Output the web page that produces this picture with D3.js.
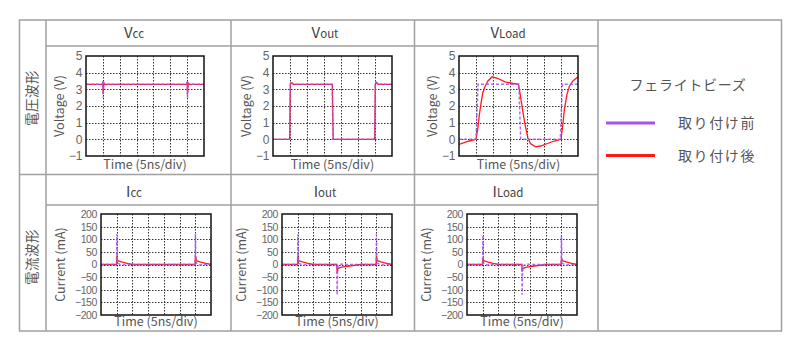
<!DOCTYPE html>
<html>
<head>
<meta charset="utf-8">
<script src="https://cdn.jsdelivr.net/npm/d3@7"></script>
<style>
body { margin: 0; background: #fff; }
text { font-family: "Noto Sans CJK JP", "Noto Sans", sans-serif; fill: #555; }
</style>
</head>
<body>
<svg id="chart" width="800" height="350"></svg>
<script>
// 時間軸は div 単位 (1div = 5ns)
const timeDomain = [0, 7];
const timeGrid = [1, 2, 3, 4, 5, 6];
const voltTicks = [-1, 0, 1, 2, 3, 4, 5];
const currTicks = [-200, -150, -100, -50, 0, 50, 100, 150, 200];

// 電圧波形 [div, V]
const vccBefore = [[0,3.3],[0.98,3.3],[1.0,3.5],[1.02,2.5],[1.06,3.4],[1.15,3.3],[5.98,3.3],[6.0,3.5],[6.02,2.5],[6.06,3.4],[6.15,3.3],[7,3.3]];
const vccAfter = [[0,3.3],[0.98,3.3],[1.0,3.45],[1.02,2.7],[1.05,3.35],[1.12,3.3],[5.98,3.3],[6.0,3.45],[6.02,2.7],[6.05,3.35],[6.12,3.3],[7,3.3]];
const voutBefore = [[0,0],[0.98,0],[1.02,3.3],[1.05,3.45],[1.2,3.3],[3.48,3.3],[3.53,0],[5.98,0],[6.02,3.3],[6.05,3.45],[6.2,3.3],[7,3.3]];
const voutAfter = [[0,0],[0.98,0],[1.02,3.3],[1.06,3.4],[1.2,3.3],[3.49,3.3],[3.54,0],[5.98,0],[6.02,3.3],[6.06,3.4],[6.2,3.3],[7,3.3]];
const vloadBefore = [[0,0],[1.0,0],[1.12,3.3],[3.52,3.3],[3.63,0],[5.96,0],[6.08,3.3],[7,3.3]];
const vloadAfter = [[0,-0.3],[0.3,-0.2],[0.6,-0.1],[1.0,0],[1.1,0.6],[1.2,1.5],[1.3,2.2],[1.4,2.8],[1.5,3.1],[1.7,3.5],[1.95,3.75],[2.3,3.65],[2.7,3.45],[3.2,3.35],[3.5,3.3],[3.6,2.7],[3.75,1.7],[3.9,0.8],[4.05,0.1],[4.2,-0.25],[4.5,-0.45],[4.8,-0.4],[5.2,-0.25],[5.6,-0.1],[6.0,0],[6.1,0.8],[6.2,1.8],[6.35,2.7],[6.5,3.2],[6.7,3.5],[7.0,3.75]];

// 電流波形 [div, mA]
const iccBefore = [[0,0],[0.99,0],[1.01,120],[1.04,10],[1.1,4],[1.3,-2],[1.6,0],[5.99,0],[6.01,120],[6.04,10],[6.1,4],[6.3,-2],[6.6,0],[7,0]];
const iccAfter = [[0,0],[0.99,0],[1.01,35],[1.06,15],[1.3,10],[1.6,5],[2.0,0],[5.99,0],[6.01,35],[6.06,15],[6.3,10],[6.6,5],[7,0]];
const ioutBefore = [[0,0],[0.99,0],[1.01,120],[1.04,10],[1.1,4],[1.3,-2],[1.6,0],[3.49,0],[3.51,-120],[3.54,-10],[3.6,-4],[3.8,2],[4.1,0],[5.99,0],[6.01,120],[6.04,10],[6.1,4],[6.3,-2],[6.6,0],[7,0]];
const ioutAfter = [[0,0],[0.99,0],[1.01,35],[1.06,15],[1.3,10],[1.6,5],[2.0,0],[3.49,0],[3.51,-35],[3.56,-15],[3.8,-10],[4.4,-5],[5.0,0],[5.99,0],[6.01,35],[6.06,15],[6.3,10],[6.6,5],[7,0]];
const iloadBefore = [[0,0],[0.99,0],[1.01,115],[1.04,8],[1.1,3],[1.3,-2],[1.6,0],[3.49,0],[3.51,-120],[3.54,-10],[3.6,-4],[3.8,2],[4.1,0],[5.99,0],[6.01,115],[6.04,8],[6.1,3],[6.3,-2],[6.6,0],[7,0]];
const iloadAfter = [[0,0],[0.99,0],[1.01,25],[1.06,15],[1.3,10],[1.6,5],[2.0,0],[3.49,0],[3.51,-28],[3.56,-15],[3.8,-10],[4.4,-5],[5.0,0],[5.99,0],[6.01,25],[6.06,15],[6.3,10],[6.6,5],[7,0]];

const rowLabels = ['電圧波形', '電流波形'];
const legendTitle = 'フェライトビーズ';
const legendLabels = ['取り付け前', '取り付け後'];

const purple = '#a352f5';
const red = '#ff1a1a';
const tableColor = '#a0a0a0';

const svg = d3.select('#chart');

//表の枠
const tbl = svg.append('g').attr('stroke', tableColor).attr('stroke-width', 1.5).attr('fill', 'none');
tbl.append('rect').attr('x', 19.5).attr('y', 20).attr('width', 762).attr('height', 311);
[[46,20,46,331],[231,20,231,331],[414.5,20,414.5,331],[598,20,598,331],
 [19.5,174.5,598,174.5],[46,46,598,46],[46,205,598,205]].forEach(l => {
    tbl.append('line').attr('x1', l[0]).attr('y1', l[1]).attr('x2', l[2]).attr('y2', l[3]);
});

// 行ラベル（縦書き）
[[32.5, 98], [32.5, 257]].forEach((p, i) => {
    svg.append('text')
        .attr('transform', `translate(${p[0]},${p[1]}) rotate(-90)`)
        .attr('text-anchor', 'middle')
        .attr('dy', '0.36em')
        .style('font-size', '13.5px')
        .style('letter-spacing', '0.5px')
        .text(rowLabels[i]);
});

class Panel {
    constructor (config) {
        this.config = config;
        this.init();
    }

    init() {
        let self = this;
        const c = self.config;

        // 見出し
        const title = svg.append('text')
            .attr('x', c.cx).attr('y', c.titleY)
            .attr('text-anchor', 'middle')
            .style('fill', '#444');
        title.append('tspan').style('font-size', '15px').text(c.title[0]);
        title.append('tspan').style('font-size', '11.5px').text(c.title[1]);

        self.chart = svg.append('g')
            .attr('transform', `translate(${c.left}, ${c.top})`);

        self.xscale = d3.scaleLinear().domain(timeDomain).range([0, c.width]);
        self.yscale = d3.scaleLinear().domain(d3.extent(c.yticks)).range([c.height, 0]);

        //グリッド
        const grid = self.chart.append('g')
            .attr('stroke', '#333').attr('stroke-width', 1).attr('stroke-dasharray', '1.5,1.5');
        grid.selectAll('.gx').data(timeGrid).join('line')
            .attr('x1', d => Math.round(self.xscale(d)) + 0.5).attr('x2', d => Math.round(self.xscale(d)) + 0.5)
            .attr('y1', 0).attr('y2', c.height);
        grid.selectAll('.gy').data(c.yticks.slice(1, -1)).join('line')
            .attr('y1', d => Math.round(self.yscale(d)) + 0.5).attr('y2', d => Math.round(self.yscale(d)) + 0.5)
            .attr('x1', 0).attr('x2', c.width);

        // 波形
        const clipId = 'clip-' + c.id;
        self.chart.append('defs').append('clipPath').attr('id', clipId)
            .append('rect').attr('width', c.width).attr('height', c.height);

        const line = d3.line()
            .x(d => self.xscale(d[0]))
            .y(d => self.yscale(d[1]));

        self.chart.append('path')
            .datum(c.after)
            .attr('clip-path', `url(#${clipId})`)
            .attr('d', line)
            .attr('fill', 'none')
            .attr('stroke', red)
            .attr('stroke-width', 1.3);
        self.chart.append('path')
            .datum(c.before)
            .attr('clip-path', `url(#${clipId})`)
            .attr('d', line)
            .attr('fill', 'none')
            .attr('stroke', purple)
            .attr('stroke-opacity', 0.85)
            .attr('stroke-width', 1.5)
            .attr('stroke-dasharray', '3,2');

        self.chart.append('rect')
            .attr('width', c.width).attr('height', c.height)
            .attr('fill', 'none').attr('stroke', '#111').attr('stroke-width', 1.5);

        // 軸
        const yaxis = d3.axisLeft(self.yscale).tickValues(c.yticks).tickFormat(d3.format('d')).tickSize(0).tickPadding(4);
        self.chart.append('g').call(yaxis)
            .call(g => g.select('.domain').remove())
            .selectAll('text')
            .style('font-family', '"Liberation Sans", Arial, sans-serif')
            .style('font-size', c.tickSize)
            .style('letter-spacing', '-0.4px')
            .style('fill', '#666');

        self.chart.append('text')
            .attr('x', c.width / 2).attr('y', c.height + c.xlabelGap)
            .attr('text-anchor', 'middle')
            .style('font-size', '12.5px')
            .text('Time (5ns/div)');

        self.chart.append('text')
            .attr('transform', `translate(${-c.ylabelGap}, ${c.height / 2}) rotate(-90)`)
            .attr('text-anchor', 'middle')
            .attr('dy', '0.36em')
            .style('font-size', '12.5px')
            .text(c.ylabel);
    }
}

const panels = [
    {id:'vcc', title:['V','cc'], cx:134, titleY:38, left:86, top:56, width:118, height:100, yticks:voltTicks, tickSize:'12px', ylabel:'Voltage (V)', ylabelGap:27, xlabelGap:12.5, before:vccBefore, after:vccAfter},
    {id:'vout', title:['V','out'], cx:325, titleY:38, left:273, top:56, width:119, height:100, yticks:voltTicks, tickSize:'12px', ylabel:'Voltage (V)', ylabelGap:27, xlabelGap:12.5, before:voutBefore, after:voutAfter},
    {id:'vload', title:['V','Load'], cx:508, titleY:38, left:459, top:56, width:119, height:100, yticks:voltTicks, tickSize:'12px', ylabel:'Voltage (V)', ylabelGap:27, xlabelGap:12.5, before:vloadBefore, after:vloadAfter},
    {id:'icc', title:['I','cc'], cx:134, titleY:197, left:101, top:214, width:110, height:101, yticks:currTicks, tickSize:'10.5px', ylabel:'Current (mA)', ylabelGap:41, xlabelGap:11, before:iccBefore, after:iccAfter},
    {id:'iout', title:['I','out'], cx:325, titleY:197, left:282, top:214, width:110, height:101, yticks:currTicks, tickSize:'10.5px', ylabel:'Current (mA)', ylabelGap:41, xlabelGap:11, before:ioutBefore, after:ioutAfter},
    {id:'iload', title:['I','Load'], cx:508, titleY:197, left:467, top:214, width:110, height:101, yticks:currTicks, tickSize:'10.5px', ylabel:'Current (mA)', ylabelGap:41, xlabelGap:11, before:iloadBefore, after:iloadAfter}
];
panels.forEach(p => new Panel(p));

//凡例
svg.append('text')
    .attr('x', 688).attr('y', 90)
    .attr('text-anchor', 'middle')
    .style('font-size', '14px')
    .style('letter-spacing', '0.7px')
    .text(legendTitle);
[[purple, 123], [red, 155.5]].forEach((d, i) => {
    svg.append('line')
        .attr('x1', 606).attr('x2', 655).attr('y1', d[1]).attr('y2', d[1])
        .attr('stroke', d[0]).attr('stroke-width', 3);
    svg.append('text')
        .attr('x', 678).attr('y', d[1])
        .attr('dy', '0.36em')
        .style('font-size', '14px')
        .style('letter-spacing', '1.6px')
        .text(legendLabels[i]);
});
</script>
</body>
</html>
